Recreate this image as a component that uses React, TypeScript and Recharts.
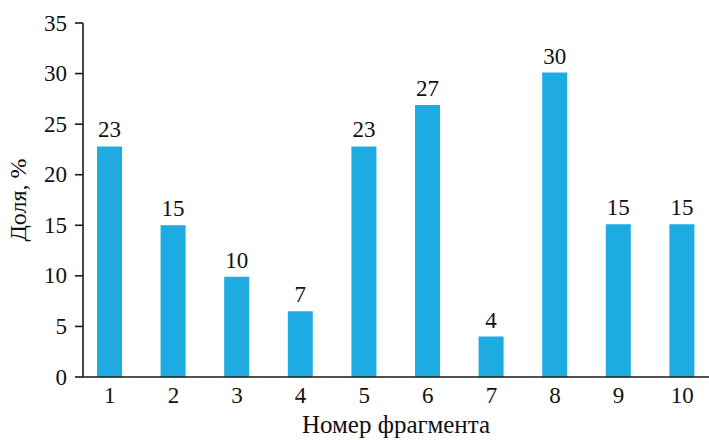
import React from 'react';
import { BarChart, Bar, XAxis, YAxis, LabelList, Label } from 'recharts';

const categories = ['1', '2', '3', '4', '5', '6', '7', '8', '9', '10'];
const shares = [22.8, 15, 9.9, 6.5, 22.8, 26.9, 4, 30.1, 15.1, 15.1];
const shareLabels = ['23', '15', '10', '7', '23', '27', '4', '30', '15', '15'];
const yTicks = [0, 5, 10, 15, 20, 25, 30, 35];

const data = categories.map((c, i) => ({ name: c, value: shares[i], label: shareLabels[i] }));

const FONT = 'Liberation Serif';
const AXIS = '#1a1a1a';
const TXT = '#111';
const textStyle = (size: number) => ({ fontFamily: FONT, fontSize: size, fill: TXT });

const YLabel = (props: any) => {
  const vb = props.viewBox || { y: 0, height: 0 };
  const cy = vb.y + vb.height / 2;
  const x = 26;
  return (
    <text x={x} y={cy} transform={`rotate(-90 ${x} ${cy})`} textAnchor="middle" style={textStyle(24)}>
      Доля, %
    </text>
  );
};

const YTick = (props: any) => (
  <text x={props.x} y={props.y} dy="0.33em" textAnchor="end" style={textStyle(23)}>
    {props.payload.value}
  </text>
);

const XTick = (props: any) => (
  <text x={props.x} y={props.y} dy="0.7em" textAnchor="middle" style={textStyle(23)}>
    {props.payload.value}
  </text>
);

const BarValue = (props: any) => {
  const { x, y, width, value } = props;
  return (
    <text x={Number(x) + Number(width) / 2} y={Number(y) - 9} textAnchor="middle" style={textStyle(23)}>
      {value}
    </text>
  );
};

export default function App() {
  return (
    <div style={{ position: 'absolute', left: 0, top: 0 }}>
      <BarChart width={709} height={440} data={data} margin={{ top: 23, right: 0, bottom: 0, left: 0 }}>
        <XAxis
          dataKey="name"
          height={63}
          padding={{ left: -5, right: -5 }}
          axisLine={{ stroke: AXIS, strokeWidth: 1.6 }}
          tickLine={false}
          tickSize={6}
          tickMargin={4}
          tick={<XTick />}
          interval={0}
        >
          <Label value="Номер фрагмента" position="insideBottom" offset={7} style={textStyle(25)} />
        </XAxis>
        <YAxis
          width={83}
          domain={[0, 35]}
          ticks={yTicks}
          interval={0}
          axisLine={{ stroke: AXIS, strokeWidth: 1.6 }}
          tickLine={{ stroke: AXIS, strokeWidth: 1.6 }}
          tickSize={8}
          tickMargin={8}
          tick={<YTick />}
        >
          <Label content={YLabel} />
        </YAxis>
        <Bar dataKey="value" fill="#1dabe1" barSize={25} isAnimationActive={false}>
          <LabelList dataKey="label" content={<BarValue />} />
        </Bar>
      </BarChart>
    </div>
  );
}
